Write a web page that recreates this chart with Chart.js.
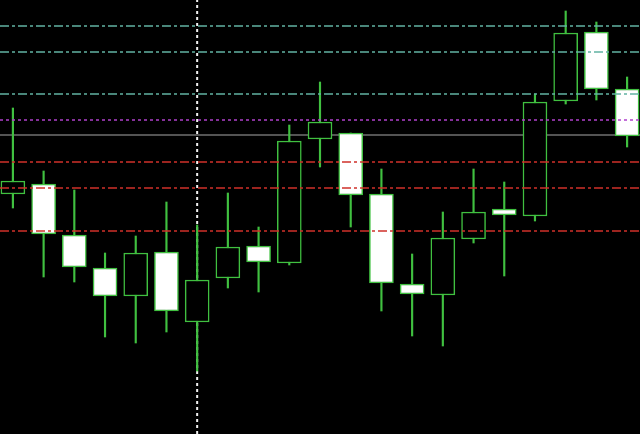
<!DOCTYPE html>
<html>
<head>
<meta charset="utf-8">
<script src="https://cdn.jsdelivr.net/npm/chart.js@4/dist/chart.umd.min.js"></script>
<style>
  html, body { margin: 0; padding: 0; background: #000; }
  #wrap { width: 640px; height: 434px; position: relative; }
</style>
</head>
<body>
<div id="wrap"><canvas id="chart"></canvas></div>
<script>
// Candle data, one entry per bar (price units).
const bars   = [0, 1, 2, 3, 4, 5, 6, 7, 8, 9, 10, 11, 12, 13, 14, 15, 16, 17, 18, 19, 20];
const opens  = [240, 250, 199, 166, 138, 182, 112, 156, 188, 171, 295, 301, 240, 150, 139, 195, 225, 218, 333, 402, 345];
const highs  = [326, 263, 244, 181, 198, 232, 209, 241, 207, 309, 352, 301, 265, 180, 222, 265, 252, 340, 423, 412, 357];
const lows   = [226, 157, 152,  97,  91, 102,  63, 146, 142, 169, 267, 207, 123,  98,  88, 191, 158, 213, 330, 334, 287];
const closes = [253, 200, 167, 138, 181, 123, 154, 187, 172, 293, 312, 239, 151, 140, 196, 222, 219, 332, 401, 345, 298];

// Horizontal level lines
const tealLevels = [408, 382, 340];
const purpleLevel = 314;
const grayLevel = 299;
const redLevels = [272, 246, 203];
// Vertical marker (bar index)
const markerBar = 6;

const C = {
  candle: '#40c040',
  up: '#000000',
  down: '#ffffff',
  teal: '#62b3a3',
  red: '#d0302a',
  purple: '#b040cc',
  gray: '#a8a8a8',
  marker: '#f0f0f0',
};

const X_MIN = -0.42, X_MAX = 20.42;
const Y_MIN = 0, Y_MAX = 434;

function hline(y, color, dash, order, width = 1.5) {
  return {
    type: 'line',
    data: [{ x: X_MIN, y }, { x: X_MAX, y }],
    borderColor: color,
    borderWidth: width,
    borderDash: dash,
    pointRadius: 0,
    order,
  };
}

const dashDot = [9, 3, 3, 3];

const datasets = [
  // background objects
  hline(grayLevel, C.gray, [], 10, 1),
  {
    type: 'line',
    data: [{ x: markerBar, y: Y_MIN }, { x: markerBar, y: Y_MAX }],
    borderColor: C.marker, borderWidth: 2, borderDash: [3, 3],
    pointRadius: 0, order: 9,
  },
  // wicks
  {
    type: 'bar',
    data: bars.map((b, i) => ({ x: b, y: [lows[i], highs[i]] })),
    backgroundColor: C.candle,
    borderWidth: 0,
    barThickness: 1.5,
    grouped: false,
    order: 8,
  },
  // bodies
  {
    type: 'bar',
    data: bars.map((b, i) => ({ x: b, y: [opens[i], closes[i]] })),
    backgroundColor: bars.map((b, i) => closes[i] >= opens[i] ? C.up : C.down),
    borderColor: C.candle,
    borderWidth: 1.5,
    borderSkipped: false,
    barThickness: 24,
    grouped: false,
    order: 7,
  },
  // foreground levels
  ...tealLevels.map((y) => hline(y, C.teal, dashDot, 1)),
  hline(purpleLevel, C.purple, [3, 3], 1),
  ...redLevels.map((y) => hline(y, C.red, dashDot, 1)),
];

new Chart(document.getElementById('chart'), {
  type: 'bar',
  data: { datasets },
  options: {
    responsive: true, maintainAspectRatio: false,
    animation: false,
    layout: { padding: 0 },
    plugins: { legend: { display: false }, tooltip: { enabled: false } },
    scales: {
      x: { type: 'linear', min: X_MIN, max: X_MAX, offset: false, display: false },
      y: { type: 'linear', min: Y_MIN, max: Y_MAX, display: false },
    },
  },
});
</script>
</body>
</html>
